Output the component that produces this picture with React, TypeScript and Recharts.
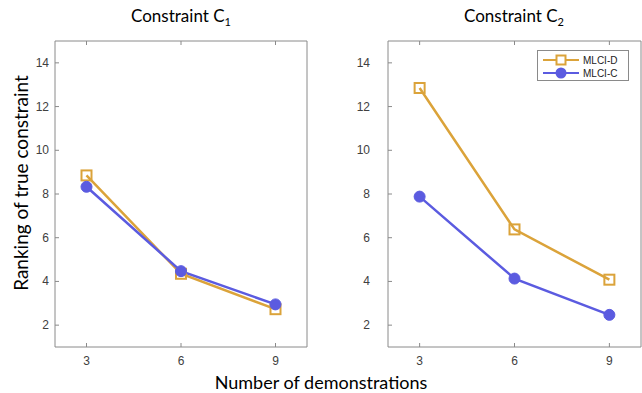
import { LineChart, Line, XAxis, YAxis, ReferenceArea } from 'recharts'

const demos = [3, 6, 9]
const xTicks = [3, 6, 9]
const yTicks = [2, 4, 6, 8, 10, 12, 14]
const seriesNames = ['MLCI-D', 'MLCI-C']

const c1MlciD = [8.85, 4.35, 2.73]
const c1MlciC = [8.33, 4.47, 2.95]
const c2MlciD = [12.85, 6.38, 4.08]
const c2MlciC = [7.88, 4.13, 2.47]

const GOLD = '#DBA33A'
const BLUE = '#5B5BE0'
const AXIS = '#8a8a8a'
const TICK_TXT = '#404040'
const tickFont = { fontFamily: '"Liberation Sans", Arial, sans-serif', fontSize: 12, fill: TICK_TXT }
const labelFont = 'Lato, "Open Sans", sans-serif'

function SquareDot(props: any) {
  const { cx, cy } = props
  if (cx == null || cy == null) return null
  return <rect x={cx - 5} y={cy - 5} width={10} height={10} fill="none" stroke={GOLD} strokeWidth={2} />
}

function CircleDot(props: any) {
  const { cx, cy } = props
  if (cx == null || cy == null) return null
  return <circle cx={cx} cy={cy} r={5.5} fill={BLUE} stroke={BLUE} />
}

// tick.y / tick.x arrive offset by tickSize + tickMargin (both 0 here), so they sit on the axis line
const BottomTick = (p: any) => (
  <g>
    <line x1={p.x} x2={p.x} y1={p.y} y2={p.y - 4} stroke={AXIS} />
    <text x={p.x} y={p.y + 18} textAnchor="middle" {...tickFont}>{p.payload.value}</text>
  </g>
)
const TopTick = (p: any) => (
  <g>
    <line x1={p.x} x2={p.x} y1={p.y} y2={p.y + 4} stroke={AXIS} />
  </g>
)
const RightTick = (p: any) => (
  <g>
    <line x1={p.x} x2={p.x - 4} y1={p.y} y2={p.y} stroke={AXIS} />
  </g>
)
const makeLeftTick = (gap: number) => (p: any) => (
  <g>
    <line x1={p.x} x2={p.x + 4} y1={p.y} y2={p.y} stroke={AXIS} />
    <text x={p.x - gap} y={p.y + 4} textAnchor="end" {...tickFont}>{p.payload.value}</text>
  </g>
)

function Panel({ d, c, left, width, margin, gap }: { d: number[]; c: number[]; left: number; width: number; margin: any; gap: number }) {
  const data = demos.map((x, i) => ({ x, d: d[i], c: c[i] }))
  return (
    <div style={{ position: 'absolute', left, top: 0 }}>
      <LineChart width={width} height={393} data={data} margin={margin}>
        <ReferenceArea x1={2} x2={10} y1={1} y2={15} fill="none" stroke={AXIS} strokeWidth={1} ifOverflow="visible" />
        <XAxis dataKey="x" type="number" domain={[2, 10]} ticks={xTicks} height={30} tickSize={0} tickMargin={0} axisLine={false} tick={BottomTick} interval={0} />
        <XAxis xAxisId="top" orientation="top" dataKey="x" type="number" domain={[2, 10]} ticks={xTicks} height={30} tickSize={0} tickMargin={0} axisLine={false} tick={TopTick} interval={0} />
        <YAxis type="number" domain={[1, 15]} ticks={yTicks} width={40} tickSize={0} tickMargin={0} axisLine={false} tick={makeLeftTick(gap)} interval={0} />
        <YAxis yAxisId="right" orientation="right" type="number" domain={[1, 15]} ticks={yTicks} width={1} tickSize={0} tickMargin={0} axisLine={false} tick={RightTick} interval={0} />
        <Line dataKey="d" name={seriesNames[0]} stroke={GOLD} strokeWidth={2.5} dot={<SquareDot />} isAnimationActive={false} />
        <Line dataKey="c" name={seriesNames[1]} stroke={BLUE} strokeWidth={2.5} dot={<CircleDot />} isAnimationActive={false} />
      </LineChart>
    </div>
  )
}

function Title({ n, center }: { n: number; center: number }) {
  return (
    <div style={{ position: 'absolute', top: 5, left: center - 80, width: 160, textAlign: 'center', fontFamily: labelFont, fontSize: 17, color: '#000' }}>
      Constraint C<sub style={{ fontSize: 11 }}>{n}</sub>
    </div>
  )
}

function Legend() {
  const rows = [
    { name: seriesNames[0], color: GOLD, square: true },
    { name: seriesNames[1], color: BLUE, square: false },
  ]
  return (
    <div style={{ position: 'absolute', left: 537, top: 50, width: 92, height: 31, border: `1px solid ${AXIS}`, background: '#fff', boxSizing: 'border-box' }}>
      {rows.map((r, i) => (
        <div key={r.name} style={{ position: 'absolute', left: 5, top: 3 + i * 13, height: 12, display: 'flex', alignItems: 'center' }}>
          <svg width={36} height={12}>
            <line x1={0} x2={36} y1={6} y2={6} stroke={r.color} strokeWidth={2} />
            {r.square ? (
              <rect x={13.5} y={1.5} width={9} height={9} fill="#fff" stroke={r.color} strokeWidth={2} />
            ) : (
              <circle cx={18} cy={6} r={5.5} fill={r.color} />
            )}
          </svg>
          <span style={{ marginLeft: 4, fontFamily: '"Liberation Sans", Arial, sans-serif', fontSize: 10, color: '#222' }}>{r.name}</span>
        </div>
      ))}
    </div>
  )
}

export default function App() {
  return (
    <div style={{ position: 'absolute', left: 0, top: 0, width: 642, height: 393, background: '#fff', overflow: 'hidden' }}>
      <Panel d={c1MlciD} c={c1MlciC} left={0} width={320} margin={{ top: 11, right: 12, bottom: 16, left: 15 }} gap={6} />
      <Panel d={c2MlciD} c={c2MlciC} left={320} width={322} margin={{ top: 11, right: 0, bottom: 16, left: 28 }} gap={18} />
      <Title n={1} center={181} />
      <Title n={2} center={514} />
      <Legend />
      <div style={{ position: 'absolute', left: 20, top: 183, transform: 'translate(-50%, -50%) rotate(-90deg)', whiteSpace: 'nowrap', fontFamily: labelFont, fontSize: 19, color: '#000' }}>
        Ranking of true constraint
      </div>
      <div style={{ position: 'absolute', left: 0, width: 642, top: 373, lineHeight: '18px', textAlign: 'center', fontFamily: labelFont, fontSize: 18, color: '#000' }}>
        Number of demonstrations
      </div>
    </div>
  )
}
